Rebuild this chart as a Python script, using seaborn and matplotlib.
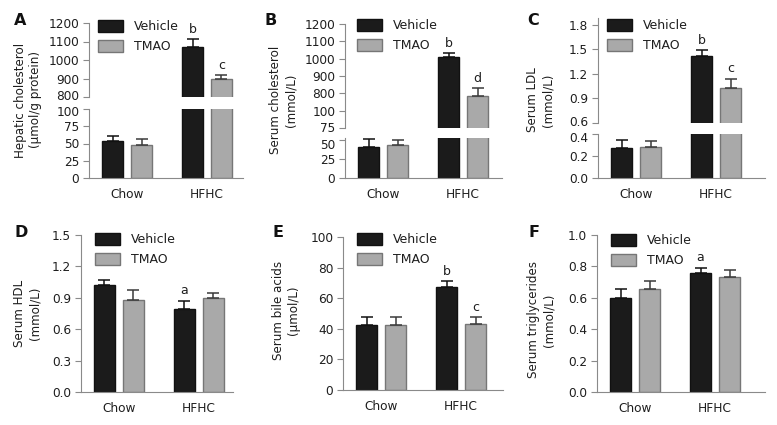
import numpy as np
import pandas as pd
import seaborn as sns
import matplotlib.pyplot as plt
from matplotlib.transforms import ScaledTranslation

# categories
groups = ["Chow", "HFHC"]
treatments = ["Vehicle", "TMAO"]

# A - hepatic cholesterol (umol/g protein)
hep_vehicle = [54, 1072]
hep_vehicle_err = [7, 39]
hep_tmao = [48, 900]
hep_tmao_err = [8, 17]
hep_sig = [["", "b"], ["", "c"]]

# B - serum cholesterol
chol_vehicle = [41, 1009]
chol_vehicle_err = [10, 23]
chol_tmao = [43, 784]
chol_tmao_err = [7, 46]
chol_sig = [["", "b"], ["", "d"]]
chol_upper_labels = ["75", "100", "800", "900", "1000", "1100", "1200"]

# C - serum LDL
ldl_vehicle = [0.27, 1.42]
ldl_vehicle_err = [0.08, 0.07]
ldl_tmao = [0.28, 1.03]
ldl_tmao_err = [0.06, 0.11]
ldl_sig = [["", "b"], ["", "c"]]

# D - serum HDL
hdl_vehicle = [1.02, 0.79]
hdl_vehicle_err = [0.05, 0.08]
hdl_tmao = [0.88, 0.90]
hdl_tmao_err = [0.09, 0.05]
hdl_sig = [["", "a"], ["", ""]]

# E - serum bile acids
bile_vehicle = [42.5, 67.5]
bile_vehicle_err = [5.5, 3.5]
bile_tmao = [42.5, 43.0]
bile_tmao_err = [5.5, 4.7]
bile_sig = [["", "b"], ["", "c"]]

# F - serum triglycerides
tg_vehicle = [0.60, 0.76]
tg_vehicle_err = [0.055, 0.03]
tg_tmao = [0.655, 0.73]
tg_tmao_err = [0.055, 0.05]
tg_sig = [["", "a"], ["", ""]]

sns.set_style("white")
plt.rcParams["font.family"] = ["DejaVu Sans"]

W, H = 777, 425
fig = plt.figure(figsize=(W / 100, H / 100), dpi=100)

face = {"Vehicle": "#1b1b1b", "TMAO": "#a9a9a9"}
edge = {"Vehicle": "#111111", "TMAO": "#767676"}
ebar = {"Vehicle": "#111111", "TMAO": "#3a3a3a"}
spine_col = "#8a8a8a"
txt_col = "#1e1e1e"


def add_ax(x0, x1, y0, y1):
    return fig.add_axes([x0 / W, 1 - y1 / H, (x1 - x0) / W, (y1 - y0) / H])


def make_df(vehicle, tmao):
    return pd.DataFrame({"group": groups * 2,
                         "treatment": ["Vehicle"] * 2 + ["TMAO"] * 2,
                         "value": list(vehicle) + list(tmao)})


def draw(ax, df, errs, sigs, ylim, yticks, width_px, bottom=True, ylabels=None, fmt=None):
    sns.barplot(data=df, x="group", y="value", hue="treatment", order=groups,
                hue_order=treatments, palette=face, width=0.725, gap=0.255,
                errorbar=None, linewidth=1.0, legend=False, ax=ax)
    for cont, tr, err, sig in zip(ax.containers, treatments, errs, sigs):
        for bar, e, s in zip(cont, err, sig):
            bar.set_edgecolor(edge[tr])
            x = bar.get_x() + bar.get_width() / 2
            h = bar.get_height()
            ax.errorbar(x, h, yerr=[[0], [e]], fmt="none", ecolor=ebar[tr],
                        elinewidth=1.1, capsize=4, capthick=1.1, zorder=1)
            if s:
                ax.annotate(s, (x, h + e), xytext=(0, 2.5), textcoords="offset points",
                            ha="center", va="bottom", fontsize=9, color=txt_col)
    ax.set_xlim(-0.475, -0.475 + width_px / 80)
    ax.set_ylim(*ylim)
    ax.set_yticks(yticks)
    if ylabels is not None:
        ax.set_yticklabels(ylabels)
    elif fmt is not None:
        ax.set_yticklabels([fmt.format(t) for t in yticks])
    ax.set_xlabel("")
    ax.set_ylabel("")
    for sp in ["top", "right"]:
        ax.spines[sp].set_visible(False)
    ax.spines["left"].set_color(spine_col)
    ax.spines["bottom"].set_color(spine_col)
    ax.tick_params(axis="y", length=4, width=0.8, color=spine_col, pad=3,
                   labelsize=8.7, labelcolor=txt_col, left=True)
    if bottom:
        ax.tick_params(axis="x", length=0, pad=7, labelsize=8.7, labelcolor=txt_col)
    else:
        ax.spines["bottom"].set_visible(False)
        ax.tick_params(axis="x", bottom=False, labelbottom=False)
    ax.patch.set_alpha(0)


def nudge(label, dy_px):
    label.set_transform(label.get_transform()
                        + ScaledTranslation(0, dy_px / 100, fig.dpi_scale_trans))


def split_labels(ax_up, ax_lo, up=2.5, down=2.5):
    # keep the two tick labels either side of the break apart
    nudge(ax_up.get_yticklabels()[0], up)
    nudge(ax_lo.get_yticklabels()[-1], -down)


def legend(ax, x, y):
    ax.legend(ax.containers, treatments, loc="upper left",
              bbox_to_anchor=(x / W, 1 - y / H), bbox_transform=fig.transFigure,
              frameon=False, fontsize=9, handlelength=2.0, handleheight=1.05,
              handletextpad=0.9, labelspacing=0.55, borderpad=0, borderaxespad=0,
              labelcolor=txt_col)


def panel_text(letter, lx, ly, line1, line2, tx, ty):
    fig.text(lx / W, 1 - ly / H, letter, fontsize=11.5, fontweight="bold",
             ha="left", va="baseline", color="#111111")
    fig.text(tx / W, 1 - ty / H, line1 + "\n" + line2, rotation=90, fontsize=8.6,
             ha="center", va="center", multialignment="center", color=txt_col,
             linespacing=1.25)


# ---- A (broken axis)
df = make_df(hep_vehicle, hep_tmao)
errs = [hep_vehicle_err, hep_tmao_err]
ax_up = add_ax(89, 243, 23, 97)
draw(ax_up, df, errs, hep_sig, (800, 1200), [800, 900, 1000, 1100, 1200], 154, bottom=False)
legend(ax_up, 98, 20)
ax_lo = add_ax(89, 243, 109, 178)
draw(ax_lo, df, errs, hep_sig, (0, 100), [0, 25, 50, 75, 100], 154)
split_labels(ax_up, ax_lo)
panel_text("A", 14, 25, "Hepatic cholesterol", "(\u00b5mol/g protein)", 28, 100)

# ---- B (broken axis, relabelled upper ticks as in the figure)
df = make_df(chol_vehicle, chol_tmao)
errs = [chol_vehicle_err, chol_tmao_err]
ax_up = add_ax(345, 502, 24, 128)
draw(ax_up, df, errs, chol_sig, (600, 1200), [600, 700, 800, 900, 1000, 1100, 1200], 157,
     bottom=False, ylabels=chol_upper_labels)
legend(ax_up, 357, 19)
ax_lo = add_ax(345, 502, 138, 178)
draw(ax_lo, df, errs, chol_sig, (0, 52.6), [0, 25, 50], 157)
split_labels(ax_up, ax_lo, up=1, down=4)
panel_text("B", 265, 25, "Serum cholesterol", "(mmol/L)", 283, 100)

# ---- C (broken axis)
df = make_df(ldl_vehicle, ldl_tmao)
errs = [ldl_vehicle_err, ldl_tmao_err]
ax_up = add_ax(598, 765, 18, 123)
draw(ax_up, df, errs, ldl_sig, (0.6, 1.885), [0.6, 0.9, 1.2, 1.5, 1.8], 167,
     bottom=False, fmt="{:.1f}")
legend(ax_up, 607, 19)
ax_lo = add_ax(598, 765, 134, 178)
draw(ax_lo, df, errs, ldl_sig, (0, 0.4), [0.0, 0.2, 0.4], 167, fmt="{:.1f}")
split_labels(ax_up, ax_lo)
panel_text("C", 527, 25, "Serum LDL", "(mmol/L)", 540, 100)

# ---- D
ax = add_ax(81, 233, 235, 392)
draw(ax, make_df(hdl_vehicle, hdl_tmao), [hdl_vehicle_err, hdl_tmao_err], hdl_sig,
     (0, 1.5), [0.0, 0.3, 0.6, 0.9, 1.2, 1.5], 152, fmt="{:.1f}")
legend(ax, 95, 233)
panel_text("D", 14, 237, "Serum HDL", "(mmol/L)", 27, 313)

# ---- E
ax = add_ax(343, 503, 237, 390)
draw(ax, make_df(bile_vehicle, bile_tmao), [bile_vehicle_err, bile_tmao_err], bile_sig,
     (0, 100), [0, 20, 40, 60, 80, 100], 160)
legend(ax, 357, 233)
panel_text("E", 272, 237, "Serum bile acids", "(\u00b5mol/L)", 286, 310)

# ---- F
ax = add_ax(597, 765, 235, 392)
draw(ax, make_df(tg_vehicle, tg_tmao), [tg_vehicle_err, tg_tmao_err], tg_sig,
     (0, 1.0), [0.0, 0.2, 0.4, 0.6, 0.8, 1.0], 168, fmt="{:.1f}")
legend(ax, 611, 234)
panel_text("F", 528, 237, "Serum triglycerides", "(mmol/L)", 541, 320)

fig.savefig("out.png", dpi=100)
